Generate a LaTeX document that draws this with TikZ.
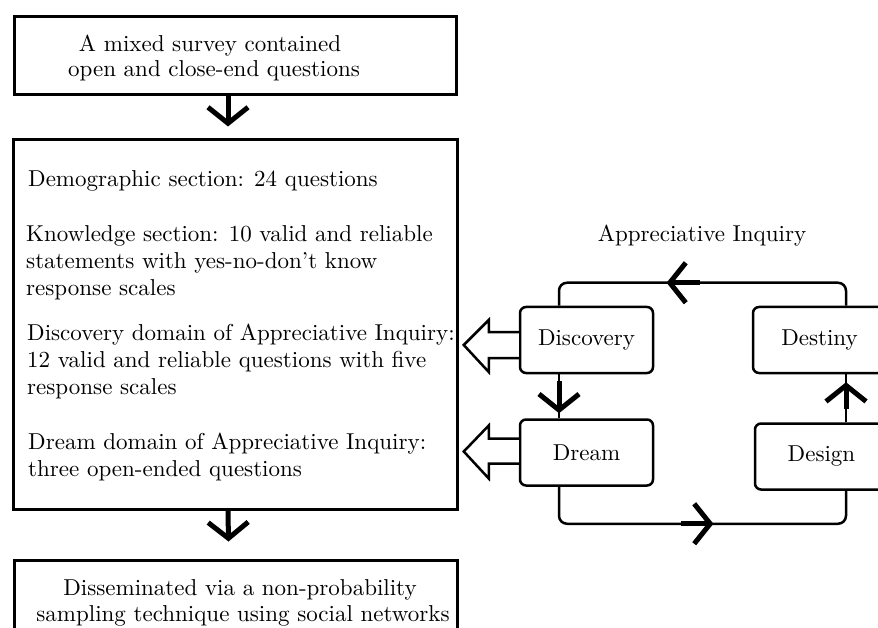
\documentclass[tikz,border=0pt]{standalone}
\usepackage{fontspec}
\setmainfont{lmroman10-regular.otf}
\usetikzlibrary{arrows.meta,calc,decorations.markings}
\begin{document}
\begin{tikzpicture}[x=1pt,y=-1pt,
  font=\fontsize{23}{27}\selectfont,
  sqbox/.style={draw,line width=3pt,rectangle,inner sep=0pt},
  rbox/.style={draw,line width=2.5pt,rounded corners=6pt,minimum width=133pt,minimum height=66pt,inner sep=0pt},
  txt/.style={inner sep=0pt},
  fat/.style={line width=5pt,-{Straight Barb[length=16pt,width=40pt,line width=5pt]}},
  loopline/.style={line width=2.5pt},
  hollow/.style={draw,line width=2.5pt,line join=miter,fill=white},
  markarrow/.style 2 args={postaction={decorate},decoration={markings,
     mark=at position #1 with {\draw[fat] (-#2,0pt) -- (0pt,0pt);}}}
]
\useasboundingbox (0,0) rectangle (878,628);
\clip (0,0) rectangle (878,628);

% ---- left column boxes
\node[sqbox,minimum width=442pt,minimum height=78pt] (top) at (235,56) {};
\node[txt,anchor=base] (top1) at (210,52) {A mixed survey contained};
\node[txt,anchor=base] (top2) at (214,77) {open and close-end questions};

\node[sqbox,minimum width=444pt,minimum height=369pt] (mid) at (235,324.5) {};
\node[txt,anchor=base west] (d1) at (28,187) {Demographic section: 24 questions};
\node[txt,anchor=base west] (k1) at (26,242) {Knowledge section: 10 valid and reliable};
\node[txt,anchor=base west] (k2) at (26,269) {statements with yes-no-don’t know};
\node[txt,anchor=base west] (k3) at (26,296) {response scales};
\node[txt,anchor=base west] (c1) at (27,340) {Discovery domain of Appreciative Inquiry:};
\node[txt,anchor=base west] (c2) at (27,367) {12 valid and reliable questions with five};
\node[txt,anchor=base west] (c3) at (27,394) {response scales};
\node[txt,anchor=base west] (r1) at (28,449) {Dream domain of Appreciative Inquiry:};
\node[txt,anchor=base west] (r2) at (28,476) {three open-ended questions};

\node[sqbox,minimum width=443pt,minimum height=120pt] (bot) at (235.5,620) {};
\node[txt,anchor=base] (b1) at (240,595) {Disseminated via a non-probability};
\node[txt,anchor=base] (b2) at (243,621) {sampling technique using social networks};

\draw[fat] ($(top.south)+(-7,0)$) -- ($(mid.north)+(-7,-12)$);
\draw[fat] ($(mid.south)+(-7,0)$) -- ($(bot.north)+(-7,-17)$);

% ---- Appreciative Inquiry cycle
\node[txt,anchor=base] (title) at (702,242) {Appreciative Inquiry};
\node[rbox] (disc) at (586.5,340) {Discovery};
\node[rbox] (dream) at (586.5,452.5) {Dream};
\node[rbox] (dest) at (819.5,340) {Destiny};
\node[rbox] (design) at (821.5,456.5) {Design};

\draw[loopline,rounded corners=8pt,markarrow={199pt}{33pt}]
  ($(dest.north)+(26.5,0)$) -- ++(0,-23) -| ($(disc.north)+(-27.5,0)$);
\draw[loopline,rounded corners=8pt,markarrow={188pt}{32pt}]
  ($(dream.south)+(-27.5,0)$) -- ++(0,37) -| ($(design.south)+(24.5,0)$);
\draw[loopline,markarrow={39pt}{32pt}]
  ($(disc.south)+(-27.5,0)$) -- ($(dream.north)+(-27.5,0)$);
\draw[loopline,markarrow={40pt}{27pt}]
  ($(design.north)+(24.5,0)$) -- ($(dest.south)+(26.5,0)$);

% ---- hollow arrows to the survey box
\draw[hollow] ($(disc.west)+(0,-8)$) -- ++(-30,0) -- ++(0,-12) -- ++(-25,25)
  -- ++(25,27) -- ++(0,-14) -- ++(30,0);
\draw[hollow] ($(dream.west)+(0,-14)$) -- ++(-30,0) -- ++(0,-13) -- ++(-25,26)
  -- ++(25,27) -- ++(0,-15) -- ++(30,0);
\end{tikzpicture}
\end{document}
